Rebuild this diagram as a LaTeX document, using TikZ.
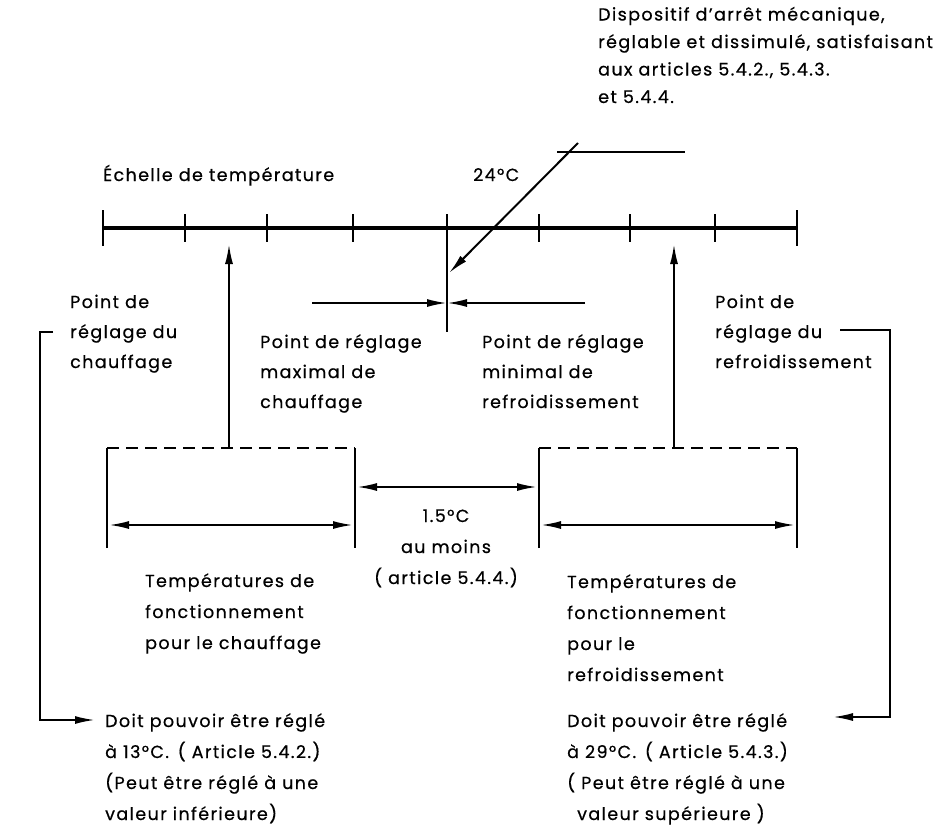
\documentclass[tikz,border=0pt]{standalone}
\usepackage{fontspec}
\setmainfont{Poppins}[LetterSpace=8,FakeBold=0.6]
\usetikzlibrary{arrows.meta}
\tikzset{
  texte/.style={anchor=base west, align=left, inner sep=0pt, font=\fontsize{17.5}{31}\selectfont},
  texteC/.style={texte, anchor=base, align=center},
  fil/.style={line width=2pt},
  fleche/.style={fil, -{Latex[length=20pt,width=8pt]}},
  dfleche/.style={fil, {Latex[length=20pt,width=8pt]}-{Latex[length=20pt,width=8pt]}},
  pointille/.style={line width=2.6pt, dash pattern=on 12pt off 7pt},
}
\begin{document}
\begin{tikzpicture}[x=1pt,y=-1pt]
	\useasboundingbox (0,0) rectangle (946,833);
	% Textes (ancre : ligne de base de la derniere ligne)
	\node (dispositif) at (598,103) [texte,font=\fontsize{17.5}{27.5}\selectfont] {Dispositif d'arrêt mécanique,\\réglable et dissimulé, satisfaisant\\aux articles 5.4.2., 5.4.3.\\et 5.4.4.};
	\node (echelle) at (103,181) [texte] {Échelle de température};
	\node (vingtquatre) at (473,181) [texte] {24°C};
	\node (pchauf) at (70,368) [texte,font=\fontsize{17.5}{30}\selectfont] {Point de\\réglage du\\chauffage};
	\node (prefr) at (715,368) [texte,font=\fontsize{17.5}{30}\selectfont] {Point de\\réglage du\\refroidissement};
	\node (pmax) at (260,408) [texte,font=\fontsize{17.5}{30}\selectfont] {Point de réglage\\maximal de\\chauffage};
	\node (pmin) at (482,408) [texte,font=\fontsize{17.5}{30}\selectfont] {Point de réglage\\minimal de\\refroidissement};
	\node (ecart) at (446,584) [texteC] {1.5°C\\au moins\\( article 5.4.4.)};
	\node (tchauf) at (145,649) [texte] {Températures de\\fonctionnement\\pour le chauffage};
	\node (trefr) at (567,681) [texte] {Températures de\\fonctionnement\\pour le\\refroidissement};
	\node (rchauf) at (105,820) [texte] {Doit pouvoir être réglé\\à 13°C.\enspace( Article 5.4.2.)\\(Peut être réglé à une\\valeur inférieure)};
	\node (rrefr) at (567,820) [texte] {Doit pouvoir être réglé\\à 29°C.\enspace( Article 5.4.3.)\\( Peut être réglé à une\\\hspace*{10pt}valeur supérieure )};

	% Echelle
	\coordinate (e0) at (103,228);
	\coordinate (e8) at (797,228);
	\draw[line width=4.2pt] (e0) -- (e8);
	\draw[fil] (103,210) -- (103,246);
	\draw[fil] (797,210) -- (797,246);
	\foreach \x in {185,267,353,539,630,715}
		\draw[fil] (\x,214) -- (\x,242);
	\coordinate (t24) at (447,214);
	\coordinate (t24b) at (447,332);
	\draw[fil] (t24) -- (t24b);

	% Dispositif
	\coordinate (ld) at (557,152);
	\coordinate (lf) at (685,152);
	\coordinate (dd) at (578,143);
	\coordinate (df) at (449,273);
	\draw[fil] (ld) -- (lf);
	\draw[fleche] (dd) -- (df);

	% Points de reglage
	\coordinate (hm) at (447,303);
	\coordinate (hg) at (312,303);
	\coordinate (hd) at (585,303);
	\draw[fleche] (hg) -- (hm);
	\draw[fleche] (hd) -- (hm);

	% Boites
	\coordinate (a1) at (107,548); \coordinate (a2) at (107,448);
	\coordinate (a3) at (355,448); \coordinate (a4) at (355,548);
	\coordinate (b1) at (539,548); \coordinate (b2) at (539,448);
	\coordinate (b3) at (797,448); \coordinate (b4) at (797,548);
	\draw[line width=2.6pt] (a1) -- (a2);
	\draw[pointille] (a2) -- (a3);
	\draw[line width=2.6pt] (a3) -- (a4);
	\draw[line width=2.6pt] (b1) -- (b2);
	\draw[pointille] (b2) -- (b3);
	\draw[line width=2.6pt] (b3) -- (b4);
	\coordinate (fa) at (229,448); \coordinate (fb) at (229,244);
	\coordinate (ga) at (674,448); \coordinate (gb) at (674,244);
	\draw[fleche] (fa) -- (fb);
	\draw[fleche] (ga) -- (gb);

	% Cotes
	\draw[dfleche] (357,487) -- (537,487);
	\draw[dfleche] (109,525) -- (353,525);
	\draw[dfleche] (541,525) -- (795,525);

	% Renvois
	\coordinate (c1) at (53,332); \coordinate (c2) at (40,332);
	\coordinate (c3) at (40,720); \coordinate (c4) at (95,720);
	\draw[fleche] (c1) -- (c2) -- (c3) -- (c4);
	\coordinate (r1) at (840,330); \coordinate (r2) at (890,330);
	\coordinate (r3) at (890,717); \coordinate (r4) at (833,717);
	\draw[fleche] (r1) -- (r2) -- (r3) -- (r4);
\end{tikzpicture}
\end{document}
